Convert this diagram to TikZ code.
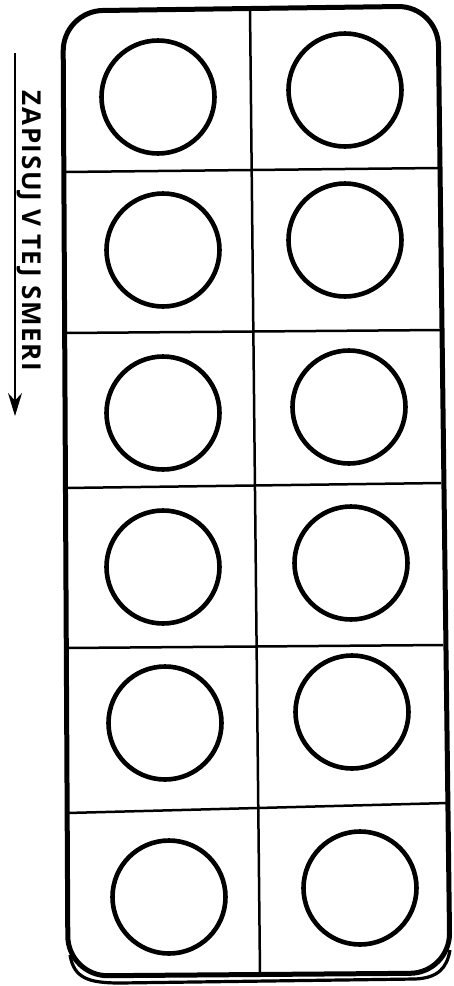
\documentclass[tikz,border=0pt]{standalone}
\usepackage{fontspec}
\setsansfont{Open Sans}
\usepackage{tikz}
\usetikzlibrary{arrows.meta}

\begin{document}
\begin{tikzpicture}[x=1pt,y=-1pt,
  okvir/.style={line width=5pt, rounded corners=40pt},
  crta/.style={line width=2.5pt},
  krog/.style={circle, draw, line width=4.6pt, minimum size=113pt, inner sep=0pt}]
\useasboundingbox (0,0) rectangle (453,986);

% okvir in senca spodaj
\draw[okvir] (63,11) -- (438,6) -- (450,973) -- (68,976) -- cycle;
\draw[line width=3.2pt] (70,955) .. controls (74,978) and (88,983) .. (120,983)
  -- (415,979) .. controls (438,978) and (447,968) .. (450,950);

% mreza
\draw[crta] (250,8) -- (260,974);
\draw[crta] (64,172) -- (438,168);
\draw[crta] (65,333) -- (440,330);
\draw[crta] (65,488) -- (441,483);
\draw[crta] (66,648) -- (443,645);
\draw[crta] (67,813) -- (448,803);

% krogi
\foreach \x/\y [count=\i] in {158/97, 345/90, 163/250, 345/240, 163/413, 349/407,
    163/567, 351/563, 165/723, 352/712, 169/897, 360/888}
  \node[krog] (k\i) at (\x,\y) {};

% smer pisanja
\node[rotate=-90, anchor=base, inner sep=0pt,
  font=\sffamily\bfseries\fontsize{26}{29}\selectfont\addfontfeatures{LetterSpace=6}] (napis) at (23,231) {ZAPISUJ V TEJ SMERI};
\coordinate (zacetek) at (15,53);
\coordinate (konec) at (15,416);
\draw[line width=1.9pt, -{Stealth[length=23pt,width=14pt]}] (zacetek) -- (konec);

\end{tikzpicture}
\end{document}
